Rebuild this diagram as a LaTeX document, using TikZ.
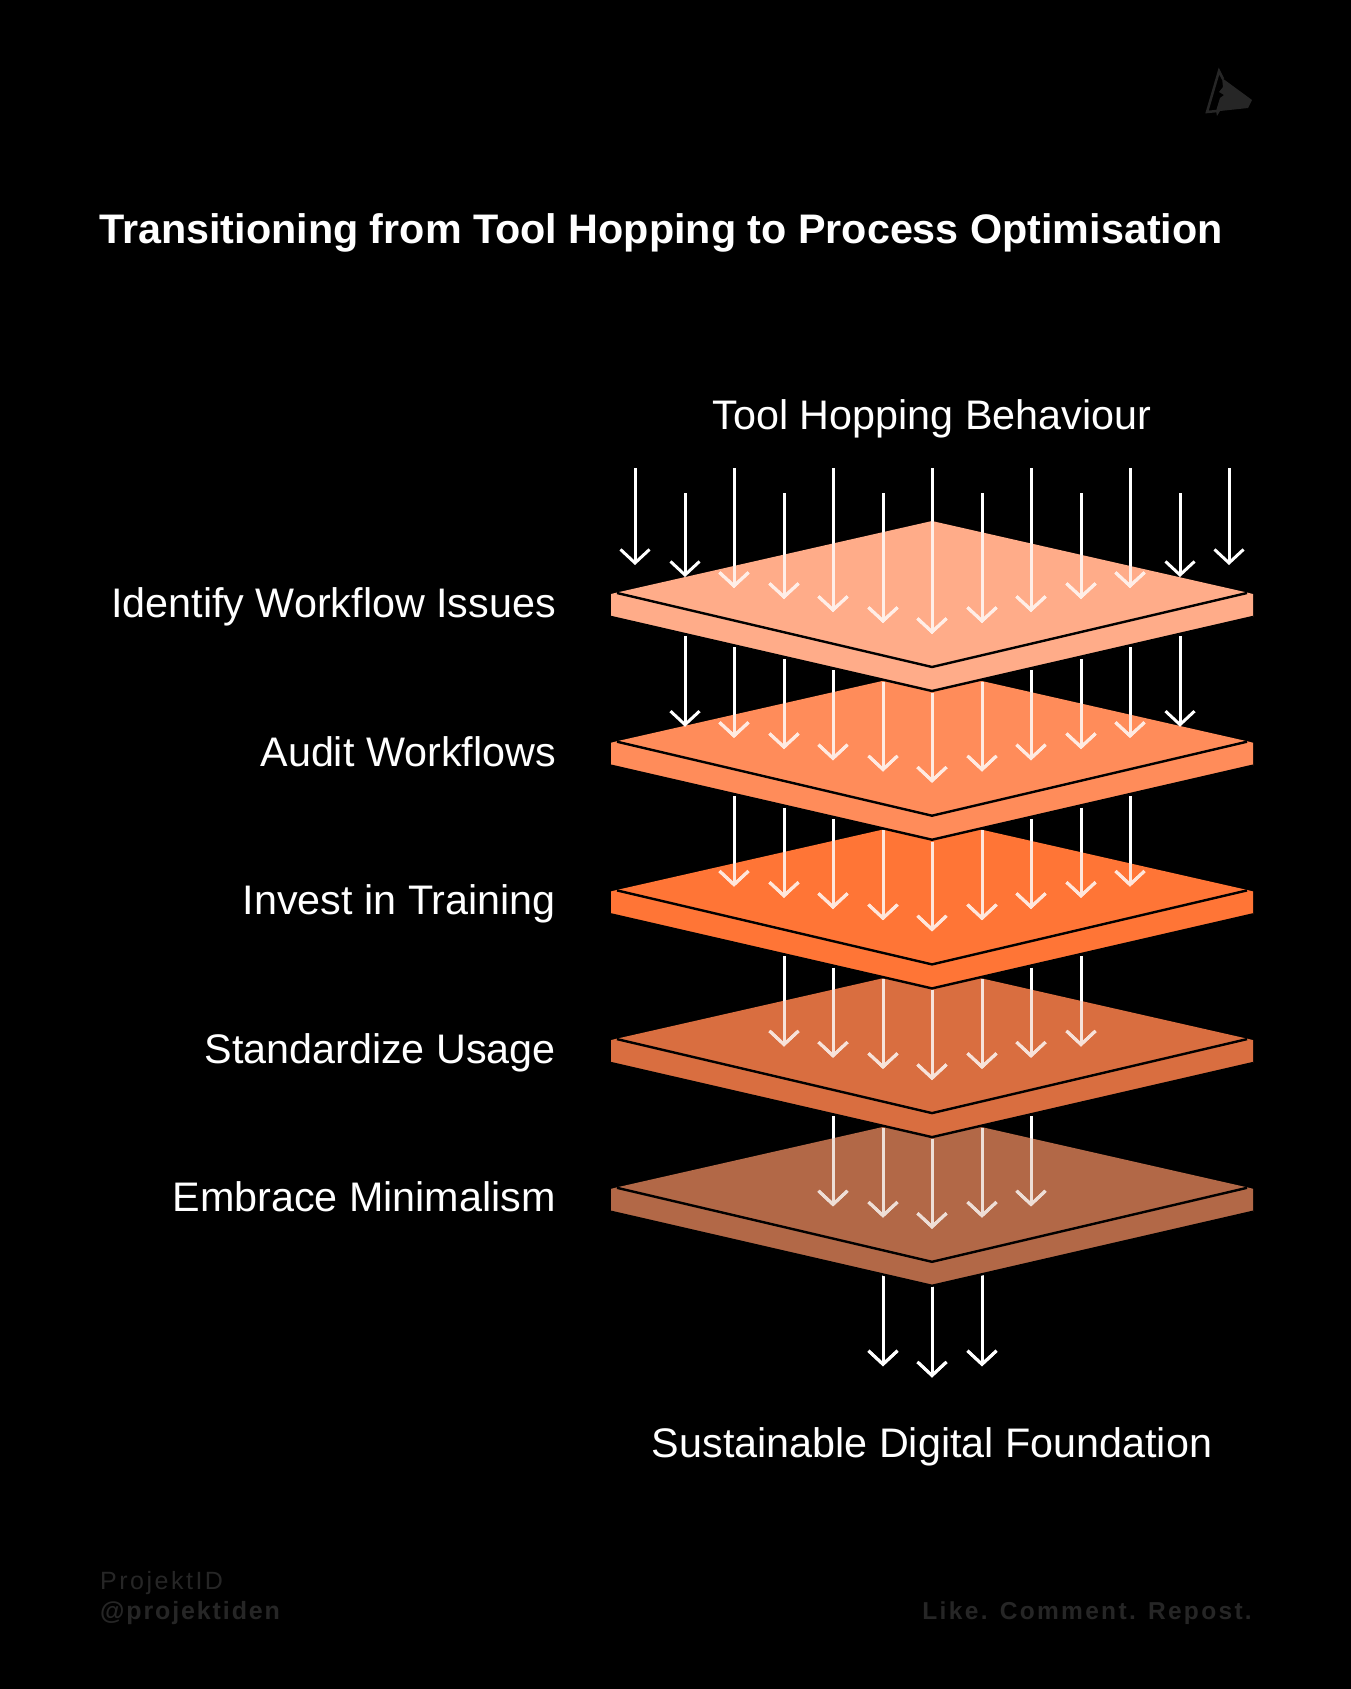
\documentclass[tikz,border=0pt]{standalone}
\usepackage{fontspec}
\usetikzlibrary{arrows.meta}
\setmainfont{Liberation Sans}
\definecolor{plA}{HTML}{FFAC89}
\definecolor{plB}{HTML}{FF8C5A}
\definecolor{plC}{HTML}{FF7536}
\definecolor{plD}{HTML}{D96E40}
\definecolor{plE}{HTML}{B26847}
\definecolor{foot}{HTML}{262626}
\tikzset{
  x=1pt,y=-1pt,
  flow/.style={line width=3pt,-{Straight Barb[length=13.5pt,width=29pt,line width=3pt]}},
  crease/.style={draw=black,line width=2.4pt,line join=miter},
  lbl/.style={text=white,inner sep=0,font=\fontsize{41.3}{48}\selectfont},
  sidelbl/.style={lbl,anchor=base east},
  footer/.style={text=foot,inner sep=0,anchor=base west},
}
% arguments: vertical offset, plate colour, name
\newcommand{\plate}[3]{%
  \begin{scope}[yshift=-#1pt]
    \fill[#2] (611,594) -- (617,592.5) -- (932,521) -- (1247,592.5) -- (1253,594) -- (1253,617) -- (932,691) -- (611,617) -- cycle;
    \draw[crease] (611,617) -- (932,691) -- (1253,617);
    \draw[crease] (617,593) -- (932,667) -- (1247,593);
  \end{scope}}
% arguments: level, half-steps from centre, colour over plate, start offset
\newcommand{\flowset}[4]{%
  \pgfmathsetmacro{\lvl}{#1*148.7}
  \foreach \k in {-#2,...,#2}{
    \pgfmathsetmacro{\ax}{round(932+49.5*\k)}
    \pgfmathsetmacro{\ak}{abs(\k)}
    \pgfmathsetmacro{\ty}{634-11.2*\ak+\lvl}
    \pgfmathsetmacro{\sy}{693-11.4*\ak+\lvl-148.7+#4}
    \coordinate (s) at (\ax,\sy);
    \coordinate (t) at (\ax,\ty);
    \draw[flow,white] (s) -- (t);
    \begin{scope}[yshift=-\lvl pt]
      \clip (611,594) -- (932,521) -- (1253,594) -- (932,667) -- cycle;
      \draw[flow,#3,yshift=\lvl pt] (s) -- (t);
    \end{scope}
  }}
\begin{document}
\begin{tikzpicture}
\useasboundingbox (0,0) rectangle (1351,1689);
\fill[black] (0,0) rectangle (1351,1689);

% arrows leaving the lowest plate
\flowset{5}{1}{white}{-4}
\plate{594.8}{plE}{e}
\flowset{4}{2}{white!78!plE}{0}
\plate{446.1}{plD}{d}
\flowset{3}{3}{white!80!plD}{0}
\plate{297.4}{plC}{c}
\flowset{2}{4}{white!82!plC}{0}
\plate{148.7}{plB}{b}
\flowset{1}{5}{white!82!plB}{0}
\plate{0}{plA}{a}
% top row, free-standing arrows
\foreach \k/\sy/\ty in {-6/468/565,-5/493/577,-4/468/588,-3/493/599,-2/468/612,-1/493/623,0/468/634,1/493/623,2/468/612,3/493/599,4/468/588,5/493/577,6/468/565}{
  \pgfmathsetmacro{\ax}{round(932+49.5*\k)}
  \coordinate (s) at (\ax,\sy);
  \coordinate (t) at (\ax,\ty);
  \draw[flow,white] (s) -- (t);
  \begin{scope}
    \clip (611,594) -- (932,521) -- (1253,594) -- (932,667) -- cycle;
    \draw[flow,white!80!plA] (s) -- (t);
  \end{scope}
}

\node[anchor=base west,text=white,inner sep=0,font=\fontsize{41.3}{50}\selectfont\bfseries] (title) at (99,243.3) {Transitioning from Tool Hopping to Process Optimisation};
\node[lbl,anchor=base] (top) at (932,429) {Tool Hopping Behaviour};
\node[lbl,anchor=base] (bottom) at (932,1457) {Sustainable Digital Foundation};
\node[sidelbl] (l1) at (556,617) {Identify Workflow Issues};
\node[sidelbl] (l2) at (556,766) {Audit Workflows};
\node[sidelbl] (l3) at (556,914) {Invest in Training};
\node[sidelbl] (l4) at (556,1063) {Standardize Usage};
\node[sidelbl] (l5) at (556,1211) {Embrace Minimalism};

\node[footer,font=\fontsize{25}{30}\selectfont\addfontfeatures{LetterSpace=10}] (f1) at (100,1589) {ProjektID};
\node[footer,font=\fontsize{25}{30}\selectfont\bfseries\addfontfeatures{LetterSpace=7.5}] (f2) at (100,1619) {@projektiden};
\node[footer,font=\fontsize{24.5}{30}\selectfont\bfseries\addfontfeatures{LetterSpace=9.5},anchor=base east] (f3) at (1252,1619) {Like. Comment. Repost.};

% corner mark
\fill[foot] (1222,78) -- (1252,100) -- (1248,108) -- (1220,111) -- (1217,116) -- (1216,111) -- (1220,98) -- (1224,95) -- (1219,92) -- (1223,87) -- cycle;
\draw[foot,line width=2.5pt] (1223,79) -- (1219,71) -- (1207,112) -- (1217,111);
\end{tikzpicture}
\end{document}
